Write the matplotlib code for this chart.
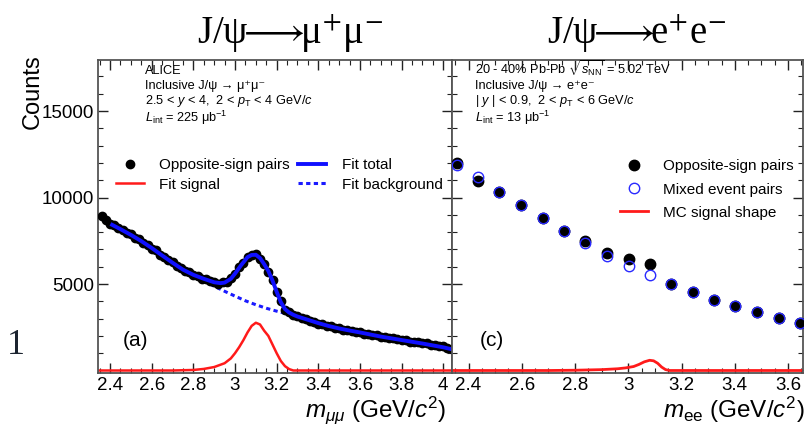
import numpy as np
import matplotlib
matplotlib.use("Agg")
import matplotlib.pyplot as plt
from matplotlib.ticker import MultipleLocator

plt.rcParams['font.family'] = ['Liberation Sans', 'DejaVu Sans']
plt.rcParams['mathtext.fontset'] = 'custom'
plt.rcParams['mathtext.rm'] = 'Liberation Sans'
plt.rcParams['mathtext.it'] = 'Liberation Sans:italic'
plt.rcParams['mathtext.bf'] = 'Liberation Sans:bold'

# ---- J/psi -> mu+ mu- (left panel) ----
mumu_mass = [2.36, 2.38, 2.40, 2.42, 2.44, 2.46, 2.48, 2.50, 2.52, 2.54,
             2.56, 2.58, 2.60, 2.62, 2.64, 2.66, 2.68, 2.70, 2.72, 2.74,
             2.76, 2.78, 2.80, 2.82, 2.84, 2.86, 2.88, 2.90, 2.92, 2.94,
             2.96, 2.98, 3.00, 3.02, 3.04, 3.06, 3.08, 3.10, 3.12, 3.14,
             3.16, 3.18, 3.20, 3.22, 3.24, 3.26, 3.28, 3.30, 3.32, 3.34,
             3.36, 3.38, 3.40, 3.42, 3.44, 3.46, 3.48, 3.50, 3.52, 3.54,
             3.56, 3.58, 3.60, 3.62, 3.64, 3.66, 3.68, 3.70, 3.72, 3.74,
             3.76, 3.78, 3.80, 3.82, 3.84, 3.86, 3.88, 3.90, 3.92, 3.94,
             3.96, 3.98, 4.00, 4.02, 4.04]
mumu_counts = [8910, 8700, 8450, 8390, 8210, 8130, 7950, 7870, 7680, 7590,
               7380, 7260, 7050, 6940, 6700, 6590, 6380, 6250, 6040, 5940,
               5750, 5680, 5500, 5470, 5310, 5290, 5150, 5130, 5020, 5090,
               5120, 5340, 5570, 5990, 6230, 6580, 6700, 6720, 6470, 6180,
               5700, 5230, 4510, 3990, 3510, 3380, 3190, 3150, 3010, 2990,
               2860, 2830, 2710, 2700, 2580, 2560, 2460, 2440, 2360, 2350,
               2270, 2250, 2210, 2130, 2120, 2040, 2030, 1940, 1940, 1870,
               1850, 1820, 1740, 1750, 1670, 1660, 1630, 1580, 1570, 1500,
               1480, 1410, 1390, 1300, 1270]

fit_total_mass = [2.41, 2.45, 2.50, 2.55, 2.60, 2.65, 2.70, 2.75, 2.80, 2.85,
                  2.90, 2.93, 2.95, 2.98, 3.00, 3.03, 3.06, 3.08, 3.10, 3.12,
                  3.14, 3.16, 3.18, 3.20, 3.22, 3.24, 3.26, 3.28, 3.30, 3.35,
                  3.40, 3.45, 3.50, 3.55, 3.60, 3.65, 3.70, 3.75, 3.80, 3.85,
                  3.90, 3.95, 4.00, 4.04]
fit_total_counts = [8420, 8170, 7840, 7480, 7080, 6650, 6230, 5830, 5530, 5300,
                    5100, 5050, 5080, 5300, 5600, 6100, 6550, 6680, 6690, 6500,
                    6150, 5750, 5200, 4550, 3950, 3550, 3350, 3220, 3120, 2930,
                    2740, 2570, 2430, 2310, 2200, 2080, 1960, 1860, 1760, 1660,
                    1560, 1450, 1340, 1230]

fit_bkg_mass = [2.41, 2.50, 2.60, 2.70, 2.76, 2.80, 2.85, 2.90, 2.95, 3.00,
                3.05, 3.10, 3.15, 3.20, 3.25, 3.30, 3.40, 3.50, 3.60, 3.70,
                3.80, 3.90, 4.00, 4.04]
fit_bkg_counts = [8420, 7840, 7080, 6230, 5770, 5500, 5180, 4870, 4580, 4300,
                  4030, 3800, 3600, 3430, 3280, 3120, 2740, 2430, 2200, 1960,
                  1760, 1560, 1340, 1230]

fit_sig_mass = [2.34, 2.70, 2.80, 2.85, 2.90, 2.95, 2.98, 3.00, 3.02, 3.04,
                3.06, 3.08, 3.10, 3.12, 3.14, 3.16, 3.18, 3.20, 3.22, 3.24,
                3.26, 3.28, 4.05]
fit_sig_counts = [0, 0, 30, 90, 200, 420, 700, 1000, 1350, 1750,
                  2200, 2580, 2760, 2660, 2300, 2000, 1500, 1000, 550, 250,
                  80, 0, 0]

mumu_ticks = [2.4, 2.6, 2.8, 3.0, 3.2, 3.4, 3.6, 3.8, 4.0]
mumu_tick_labels = ['2.4', '2.6', '2.8', '3', '3.2', '3.4', '3.6', '3.8', '4']

# ---- J/psi -> e+ e- (right panel) ----
ee_mass = [2.356, 2.435, 2.516, 2.597, 2.679, 2.759, 2.839, 2.919, 3.001,
           3.081, 3.161, 3.244, 3.323, 3.402, 3.484, 3.566, 3.644]
ee_os_counts = [11980, 10970, 10300, 9570, 8800, 8060, 7500, 6810, 6450,
                6170, 5000, 4520, 4060, 3710, 3360, 3020, 2730]
ee_mixed_counts = [11880, 11200, 10290, 9580, 8790, 8070, 7350, 6640, 6040,
                   5520, 5010, 4510, 4080, 3700, 3380, 3010, 2740]

ee_mc_mass = [2.34, 2.70, 2.80, 2.90, 2.96, 2.99, 3.02, 3.04, 3.06, 3.08,
              3.095, 3.11, 3.125, 3.14, 3.155, 3.66]
ee_mc_counts = [0, 0, 15, 50, 100, 150, 230, 350, 500, 590,
                560, 420, 200, 50, 0, 0]

ee_ticks = [2.4, 2.6, 2.8, 3.0, 3.2, 3.4, 3.6]
ee_tick_labels = ['2.4', '2.6', '2.8', '3', '3.2', '3.4', '3.6']

y_ticks = [5000, 10000, 15000]
y_tick_labels = ['5000', '10000', '15000']

W, H = 805, 425
fig = plt.figure(figsize=(W / 100, H / 100), dpi=100)


def px(x, y):
    return x / W, 1 - y / H


ax1 = fig.add_axes([98 / W, 52 / H, 354 / W, 313 / H])
ax2 = fig.add_axes([452 / W, 52 / H, 351 / W, 313 / H])

# left panel
ax1.plot(fit_sig_mass, fit_sig_counts, color='#ff1a1a', lw=1.8, zorder=2, label='Fit signal')
ax1.plot(fit_bkg_mass, fit_bkg_counts, color='#1a1aff', lw=2.2, ls=(0, (1.4, 1.1)), zorder=3,
         label='Fit background')
ax1.plot(mumu_mass, mumu_counts, 'o', color='black', ms=6, zorder=4, label='Opposite-sign pairs')
ax1.plot(fit_total_mass, fit_total_counts, color='#1010ff', lw=2.8, zorder=5, label='Fit total')
ax1.set_xlim(2.342, 4.042)
ax1.set_ylim(-145, 17950)

h, l = ax1.get_legend_handles_labels()
order = [2, 0, 3, 1]
ax1.legend([h[i] for i in order], [l[i] for i in order], ncol=2, loc='upper left',
           bbox_to_anchor=(0.028, 0.71), frameon=False, fontsize=11, borderpad=0,
           handlelength=1.85, handletextpad=1.0, columnspacing=0.55, labelspacing=0.35)

# right panel
ax2.plot(ee_mc_mass, ee_mc_counts, color='#ff1a1a', lw=2.0, zorder=2, label='MC signal shape')
ax2.plot(ee_mass, ee_os_counts, 'o', color='black', ms=7.5, zorder=3, label='Opposite-sign pairs')
ax2.plot(ee_mass, ee_mixed_counts, 'o', mfc='none', mec='#2a2aff', mew=1.0, ms=7.5, zorder=4,
         label='Mixed event pairs')
ax2.set_xlim(2.338, 3.656)
ax2.set_ylim(-145, 17950)

h, l = ax2.get_legend_handles_labels()
order = [1, 2, 0]
ax2.legend([h[i] for i in order], [l[i] for i in order], loc='upper left',
           bbox_to_anchor=(0.456, 0.707), frameon=False, fontsize=11, borderpad=0,
           handlelength=1.85, handletextpad=1.0, labelspacing=0.6)

for ax, ticks, labels in [(ax1, mumu_ticks, mumu_tick_labels), (ax2, ee_ticks, ee_tick_labels)]:
    ax.set_xticks(ticks)
    ax.set_xticklabels(labels)
    ax.xaxis.set_minor_locator(MultipleLocator(0.05))
    ax.set_yticks(y_ticks)
    ax.yaxis.set_minor_locator(MultipleLocator(1000))
    ax.tick_params(which='both', direction='in', top=True, right=True, left=True,
                   color='#222222', labelsize=13.5, pad=3)
    ax.tick_params(which='major', length=7, width=1.0)
    ax.tick_params(which='minor', length=3.5, width=0.8)
    for s in ax.spines.values():
        s.set_color('#555555')
        s.set_linewidth(1.3)

ax1.set_yticklabels(y_tick_labels)
ax2.tick_params(labelleft=False)

# panel annotations
small = 9.2
for y, s in [(71, 'ALICE'),
             (86, 'Inclusive J/ψ → μ⁺μ⁻'),
             (101, '2.5 < $y$ < 4,  2 < $p_{\\rm T}$ < 4 GeV/$c$'),
             (118, '$L_{\\rm int}$ = 225 μb$^{-1}$')]:
    fig.text(*px(145, y), s, fontsize=small, va='center', ha='left')

for y, s in [(69, '20 - 40% Pb-Pb $\\sqrt{s_{\\rm NN}}$ = 5.02 TeV'),
             (86, 'Inclusive J/ψ → e⁺e⁻'),
             (101, '| $y$ | < 0.9,  2 < $p_{\\rm T}$ < 6 GeV/$c$'),
             (118, '$L_{\\rm int}$ = 13 μb$^{-1}$')]:
    fig.text(*px(475, y), s, fontsize=small, va='center', ha='left')

fig.text(*px(135, 340), '(a)', fontsize=15, ha='center', va='center')
fig.text(*px(492, 340), '(c)', fontsize=15, ha='center', va='center')

# titles
serif = ['Liberation Serif', 'DejaVu Serif', 'DejaVu Sans']
fig.text(*px(290, 33), 'J/ψ$\\!\\!\\longrightarrow\\!\\!$μ$^{+}$μ$^{-}$', fontsize=28,
         ha='center', va='center', family=serif, math_fontfamily='stix')
fig.text(*px(636, 33), 'J/ψ$\\!\\!\\longrightarrow\\!\\!$e$^{+}$e$^{-}$', fontsize=28,
         ha='center', va='center', family=serif, math_fontfamily='stix')

# axis titles
fig.text(*px(33, 92), 'Counts', rotation=90, fontsize=17, ha='center', va='center')
fig.text(*px(446, 410), '$m_{\\mu\\mu}$ (GeV/$c^{2}$)', fontsize=17.5, ha='right', va='center')
fig.text(*px(805, 410), '$m_{\\rm ee}$ (GeV/$c^{2}$)', fontsize=17.5, ha='right', va='center')

# stray glyph at the left edge of the slide
fig.text(*px(16, 345), '1', fontsize=26, ha='center', va='center', family=serif, color='#1c2430')

fig.savefig('out.png', dpi=100)
